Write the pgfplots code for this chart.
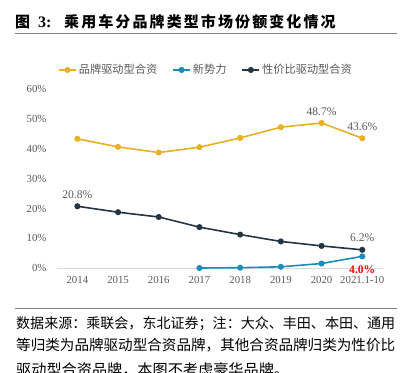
\documentclass[border=0pt]{standalone}
\usepackage{pgfplots}
\pgfplotsset{compat=1.18}
\usepackage{fontspec}
\setmainfont{Liberation Serif}
\newfontfamily\cjk{Noto Sans CJK SC}
\definecolor{cy}{RGB}{232,176,36}
\definecolor{cb}{RGB}{29,140,185}
\definecolor{cd}{RGB}{35,52,68}
\definecolor{tg}{RGB}{89,89,89}
\begin{document}
\begin{tikzpicture}[x=1pt,y=1pt]
\useasboundingbox (0,0) rectangle (403,372);
\clip (0,0) rectangle (403,372);
\node[anchor=west, inner sep=0] at (15,350) {\cjk\bfseries\fontsize{15}{15}\selectfont 图};
\node[anchor=west, inner sep=0] at (38,350) {\bfseries\fontsize{16}{16}\selectfont 3:};
\node[anchor=west, inner sep=0] at (64,350) {\cjk\bfseries\fontsize{15}{15}\selectfont\addfontfeature{LetterSpace=14}乘用车分品牌类型市场份额变化情况};
\draw[line width=1.2pt, color=gray] (15,338.7) -- (397,338.7);
\draw[line width=1.2pt, color=gray] (15,63.7) -- (397,63.7);
\node[anchor=west, inner sep=0] at (16,48.7) {\resizebox{379pt}{!}{\cjk\fontsize{14}{15}\selectfont 数据来源：乘联会，东北证券；注：大众、丰田、本田、通用}};
\node[anchor=west, inner sep=0] at (16,27) {\resizebox{379pt}{!}{\cjk\fontsize{14}{15}\selectfont 等归类为品牌驱动型合资品牌，其他合资品牌归类为性价比}};
\node[anchor=west, inner sep=0] at (16,2) {\resizebox{272.9pt}{!}{\cjk\fontsize{14}{15}\selectfont 驱动型合资品牌，本图不考虑豪华品牌。}};
\begin{axis}[
  at={(57pt,103.7pt)}, anchor=south west,
  scale only axis, width=325.6pt, height=179pt,
  xmin=-0.5, xmax=7.5, ymin=0, ymax=60,
  clip=false,
  axis lines=left, axis line style={-},
  y axis line style={draw=none},
  x axis line style={draw=gray!30, line width=0.8pt},
  major tick length=0,
  xtick={0,...,7},
  xticklabels={2014,2015,2016,2017,2018,2019,2020,2021.1-10},
  ytick={0,10,...,60},
  yticklabel={\pgfmathprintnumber{\tick}\%},
  /pgf/number format/assume math mode=true,
  tick label style={font=\fontsize{10.8}{12}\selectfont, text=tg},
  yticklabel style={xshift=-7pt},
  xticklabel style={yshift=-4.5pt},
  legend columns=3,
  legend style={at={(0.4576,1.108)}, anchor=center, draw=none, fill=none,
    font=\fontsize{11.2}{12}\selectfont, text=tg,
    /tikz/every even column/.append style={column sep=13pt}},
  every axis plot/.append style={line width=1.6pt, mark=*, mark size=2.2pt},
]
\addplot[color=cy] coordinates {(0,43.4)(1,40.7)(2,38.8)(3,40.6)(4,43.7)(5,47.3)(6,48.7)(7,43.6)};
\addlegendentry{\cjk 品牌驱动型合资}
\addplot[color=cb] coordinates {(3,0.1)(4,0.2)(5,0.5)(6,1.6)(7,4.0)};
\addlegendentry{\cjk 新势力}
\addplot[color=cd] coordinates {(0,20.8)(1,18.8)(2,17.2)(3,13.8)(4,11.3)(5,9.0)(6,7.5)(7,6.2)};
\addlegendentry{\cjk 性价比驱动型合资}
\node[text=tg, font=\fontsize{11.6}{12}\selectfont, yshift=12pt] at (axis cs:0,20.8) {20.8\%};
\node[text=tg, font=\fontsize{11.6}{12}\selectfont, yshift=11.6pt] at (axis cs:6,48.7) {48.7\%};
\node[text=tg, font=\fontsize{11.6}{12}\selectfont, yshift=11.6pt] at (axis cs:7,43.6) {43.6\%};
\node[text=tg, font=\fontsize{11.6}{12}\selectfont, yshift=12pt] at (axis cs:7,6.2) {6.2\%};
\node[text=red, font=\bfseries\fontsize{11.6}{12}\selectfont, yshift=-13pt] at (axis cs:7,4.0) {4.0\%};
\end{axis}
\end{tikzpicture}
\end{document}
